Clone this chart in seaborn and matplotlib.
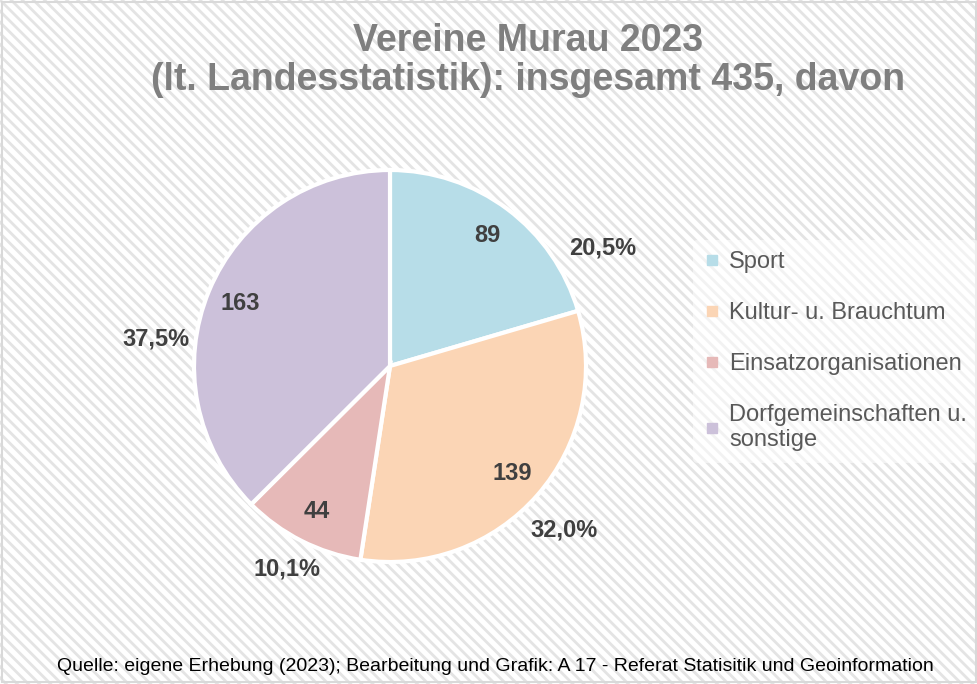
import numpy as np
import matplotlib.pyplot as plt
import seaborn as sns
from matplotlib.patches import Rectangle
from matplotlib.lines import Line2D

sns.set_style("white")
plt.rcParams['font.family'] = ['Liberation Sans', 'DejaVu Sans']
plt.rcParams['hatch.linewidth'] = 2.0

#%% Daten
kategorien = ["Sport", "Kultur- u. Brauchtum", "Einsatzorganisationen",
              "Dorfgemeinschaften u.\nsonstige"]
anzahl = [89, 139, 44, 163]
prozent = ["20,5%", "32,0%", "10,1%", "37,5%"]
farben = sns.color_palette(["#B7DDE8", "#FBD5B5", "#E6B9B8", "#CCC1DA"])
titel = "Vereine Murau 2023\n(lt. Landesstatistik): insgesamt 435, davon"
quelle = ("Quelle: eigene Erhebung (2023); Bearbeitung und Grafik: "
          "A 17 - Referat Statisitik und Geoinformation")

#%% Figur mit schraffiertem Hintergrund
fig = plt.figure(figsize=(9.78, 6.84), dpi=100)
fig.patch.set_facecolor("white")
bg = Rectangle((0, 0), 1, 1, transform=fig.transFigure, facecolor="white",
               edgecolor="#E4E4E4", hatch="\\\\\\", linewidth=0, zorder=-10)
fig.patches.append(bg)
rand = Rectangle((0.002, 0.003), 0.996, 0.994, transform=fig.transFigure,
                 facecolor="none", edgecolor="#D9D9D9", linewidth=1.5, zorder=-9)
fig.patches.append(rand)

#%% Kreisdiagramm
ax = fig.add_axes([194 / 978, 122 / 684, 392 / 978, 392 / 684])
ax.patch.set_alpha(0)
wedges, _, werte = ax.pie(anzahl, colors=farben, startangle=90, counterclock=False,
                          radius=1, autopct=lambda p: "%d" % round(p * sum(anzahl) / 100),
                          pctdistance=0.83,
                          wedgeprops=dict(edgecolor="white", linewidth=3),
                          textprops=dict(fontsize=17, fontweight="bold", color="#404040"))
ax.set_xlim(-1, 1)
ax.set_ylim(-1, 1)
ax.set_aspect("equal")
ax.axis("off")

# Prozent-Beschriftungen ausserhalb (Lage wie in Excel etwas versetzt)
verschiebung = [-24, -2, 0, 16]
abstand = [1.24, 1.22, 1.16, 1.2]
for w, txt, dv, r in zip(wedges, prozent, verschiebung, abstand):
    mitte = np.deg2rad((w.theta1 + w.theta2) / 2 + dv)
    ax.text(r * np.cos(mitte), r * np.sin(mitte), txt, ha="center", va="center",
            fontsize=17, fontweight="bold", color="#404040", clip_on=False)

#%% Titel, Legende, Quelle
fig.text(0.54, 0.911, titel, ha="center", va="center", fontsize=27,
         fontweight="bold", color="#7F7F7F", linespacing=1.1)

handles = [Line2D([], [], marker="s", linestyle="none", markersize=7,
                  markerfacecolor=c, markeredgecolor=c) for c in farben]
leg = fig.legend(handles, kategorien, loc="upper left", bbox_to_anchor=(0.697, 0.667),
                 frameon=True, fontsize=17, labelspacing=1.22, handlelength=0.6,
                 handletextpad=0.4, borderpad=0.5)
leg.get_frame().set_facecolor("white")
leg.get_frame().set_alpha(0.55)
leg.get_frame().set_edgecolor("none")
for t in leg.get_texts():
    t.set_color("#595959")

fig.text(0.507, 0.026, quelle, ha="center", va="center", fontsize=14,
         family=["Liberation Sans Narrow", "Liberation Sans"], color="black")

plt.savefig("out.png", dpi=100)
